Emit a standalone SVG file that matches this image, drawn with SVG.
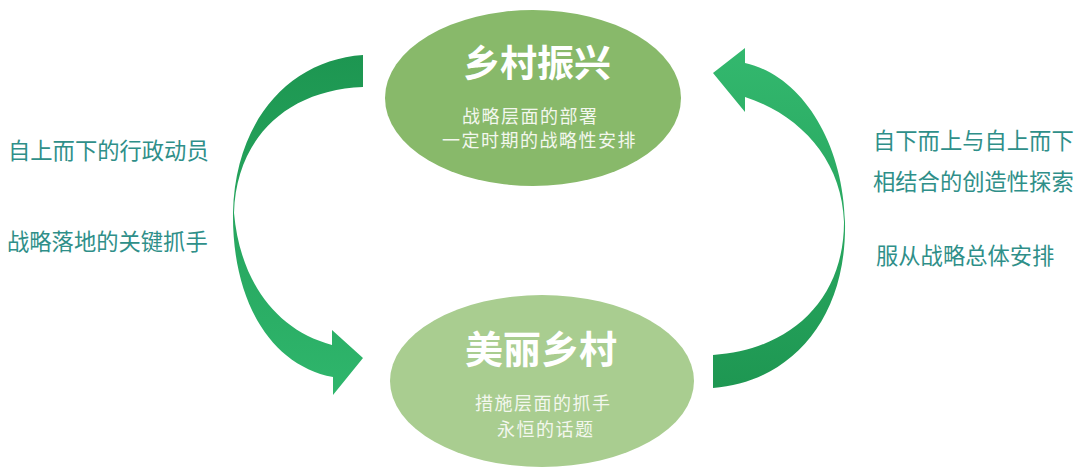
<svg xmlns="http://www.w3.org/2000/svg" width="1080" height="473" viewBox="0 0 1080 473">
<defs>
<style>
.title{font-family:"Noto Sans CJK SC","Noto Sans",sans-serif;font-weight:700;fill:#ffffff;text-anchor:middle}
.sub{font-family:"Noto Sans CJK SC","Noto Sans",sans-serif;font-weight:400;font-size:18px;fill:#f3f7ee;letter-spacing:1.5px}
.side{font-family:"Noto Sans CJK SC","Noto Sans",sans-serif;font-weight:400;font-size:22.3px;fill:#2f8f89}
</style>
<linearGradient id="gl" x1="0" y1="0" x2="0" y2="1">
<stop offset="0" stop-color="#1d9651"/>
<stop offset="1" stop-color="#2fb66c"/>
</linearGradient>
<linearGradient id="gr" x1="0" y1="0" x2="0" y2="1">
<stop offset="0" stop-color="#33b86e"/>
<stop offset="1" stop-color="#1e9752"/>
</linearGradient>
</defs>
<rect width="1080" height="473" fill="#ffffff"/>
<g id="connectors">
<path id="arrow-left" fill="url(#gl)" d="M363,55 C290,60 235,120 233,213 C232,300 270,365 333,377 L333,395 L363,358 L332,330 L332,345 C275,330 240,280 234,213 C236,140 285,90 363,87 Z"/>
<path id="arrow-right" fill="url(#gr)" d="M713,388 C790,382 847,320 845,222 C843,140 800,75 745,63 L745,48 L713,73 L745,112 L745,97 C800,115 842,160 844,222 C844,300 790,350 713,355 Z"/>
</g>
<g id="node-top">
<ellipse cx="533" cy="98" rx="148" ry="88" fill="#88b96a"/>
<text class="title" x="537" y="77" font-size="37">乡村振兴</text>
<text class="sub" x="462" y="123">战略层面的部署</text>
<text class="sub" x="442" y="147">一定时期的战略性安排</text>
</g>
<g id="node-bottom">
<ellipse cx="542" cy="381" rx="152" ry="86" fill="#a9cd90"/>
<text class="title" x="541" y="363" font-size="38">美丽乡村</text>
<text class="sub" x="475" y="410">措施层面的抓手</text>
<text class="sub" x="497" y="436">永恒的话题</text>
</g>
<g id="label-left">
<text class="side" x="8" y="159">自上而下的行政动员</text>
<text class="side" x="7" y="250">战略落地的关键抓手</text>
</g>
<g id="label-right">
<text class="side" x="873" y="149">自下而上与自上而下</text>
<text class="side" x="873" y="190">相结合的创造性探索</text>
<text class="side" x="876" y="264">服从战略总体安排</text>
</g>
</svg>
